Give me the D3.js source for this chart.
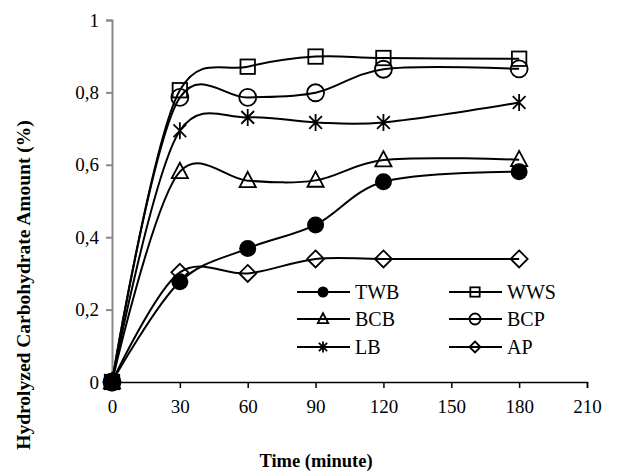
<!DOCTYPE html>
<html><head><meta charset="utf-8">
<script src="https://cdn.jsdelivr.net/npm/d3@7"></script>
<style>body{margin:0;background:#fff}svg{display:block}svg text{font-family:"Liberation Serif","Times New Roman",serif !important;fill:#000}</style>
</head><body>
<svg id="c" width="623" height="473"></svg>
<script>
const times = [0, 30, 60, 90, 120, 180];
const seriesNames = ["TWB", "WWS", "BCB", "BCP", "LB", "AP"];
const TWB = [0, 0.277, 0.369, 0.434, 0.553, 0.581];
const WWS = [0, 0.806, 0.871, 0.899, 0.895, 0.893];
const BCB = [0, 0.581, 0.556, 0.557, 0.613, 0.614];
const BCP = [0, 0.786, 0.786, 0.799, 0.864, 0.865];
const LB  = [0, 0.694, 0.731, 0.717, 0.717, 0.772];
const AP  = [0, 0.303, 0.300, 0.340, 0.340, 0.340];
const xTicks = [0, 30, 60, 90, 120, 150, 180, 210];
const yTicks = [0, 0.2, 0.4, 0.6, 0.8, 1];
const xTitle = "Time (minute)";
const yTitle = "Hydrolyzed Carbohydrate Amount (%)";

const values = {TWB, WWS, BCB, BCP, LB, AP};
const markerType = {TWB:"filledCircle", WWS:"square", BCB:"triangle", BCP:"circle", LB:"star", AP:"diamond"};
const FONT = '"Liberation Serif", "Times New Roman", serif';

const svg = d3.select("#c");
const x = d3.scaleLinear().domain([0, 210]).range([112, 587]);
const y = d3.scaleLinear().domain([0, 1]).range([382, 20]);
const fmt = v => v === 0 ? "0" : (v === 1 ? "1" : d3.format(".1f")(v).replace(".", ","));

// y axis
const ya = svg.append("g").attr("transform", "translate(112,0)")
  .call(d3.axisLeft(y).tickValues(yTicks).tickFormat(fmt).tickSize(6).tickPadding(7));
ya.attr("font-family", FONT);
ya.select(".domain").attr("stroke", "#898989").attr("stroke-width", 2);
ya.selectAll(".tick line").attr("stroke", "#898989").attr("stroke-width", 2);
ya.selectAll(".tick text").style("font-family", FONT).style("font-size", "19px");

// x axis
const xa = svg.append("g").attr("transform", "translate(0,382)")
  .call(d3.axisBottom(x).tickValues(xTicks).tickFormat(d3.format("d")).tickSize(6).tickPadding(12));
xa.attr("font-family", FONT);
xa.select(".domain").attr("stroke", "#000").attr("stroke-width", 1.5);
xa.selectAll(".tick line").attr("stroke", "#000").attr("stroke-width", 1.5);
xa.selectAll(".tick text").style("font-family", FONT).style("font-size", "19px");

svg.append("text").attr("x", 316).attr("y", 467).attr("text-anchor", "middle")
  .style("font-family", FONT).style("font-size", "18.5px").attr("font-weight", "bold").text(xTitle);
svg.append("text").attr("transform", "translate(30,285) rotate(-90)").attr("text-anchor", "middle")
  .style("font-family", FONT).style("font-size", "19.5px").attr("font-weight", "bold").text(yTitle);

function drawMarker(g, type, cx, cy, s) {
  const sw = 1.8;
  if (type === "filledCircle") {
    g.append("circle").attr("cx", cx).attr("cy", cy).attr("r", s).attr("fill", "#000");
  } else if (type === "circle") {
    g.append("circle").attr("cx", cx).attr("cy", cy).attr("r", s).attr("fill", "none").attr("stroke", "#000").attr("stroke-width", sw);
  } else if (type === "square") {
    const h = s * 0.85;
    g.append("rect").attr("x", cx - h).attr("y", cy - h).attr("width", 2*h).attr("height", 2*h).attr("fill", "none").attr("stroke", "#000").attr("stroke-width", sw);
  } else if (type === "triangle") {
    const h = s;
    g.append("path").attr("d", `M${cx},${cy - h*1.05}L${cx + h*0.95},${cy + h*0.75}L${cx - h*0.95},${cy + h*0.75}Z`).attr("fill", "none").attr("stroke", "#000").attr("stroke-width", sw);
  } else if (type === "diamond") {
    const h = s;
    g.append("path").attr("d", `M${cx},${cy - h}L${cx + h},${cy}L${cx},${cy + h}L${cx - h},${cy}Z`).attr("fill", "none").attr("stroke", "#000").attr("stroke-width", sw);
  } else if (type === "star") {
    const h = s;
    const d = h * 0.75;
    g.append("path").attr("d", `M${cx},${cy - h}V${cy + h}M${cx - d},${cy - d}L${cx + d},${cy + d}M${cx - d},${cy + d}L${cx + d},${cy - d}`).attr("fill", "none").attr("stroke", "#000").attr("stroke-width", sw);
  }
}

const line = d3.line().x(d => x(d[0])).y(d => y(d[1])).curve(d3.curveCatmullRom.alpha(0.2));
const plot = svg.append("g");
seriesNames.forEach(name => {
  const pts = times.map((t, i) => [t, values[name][i]]);
  plot.append("path").attr("d", line(pts)).attr("fill", "none").attr("stroke", "#000").attr("stroke-width", 2);
  const mg = plot.append("g");
  pts.forEach(p => drawMarker(mg, markerType[name], x(p[0]), y(p[1]), 8.5));
});

// legend
const leg = svg.append("g");
const cols = [297, 449];
const rows = [292, 319, 347];
seriesNames.forEach((name, i) => {
  const lx = cols[i % 2], ly = rows[Math.floor(i / 2)];
  leg.append("line").attr("x1", lx).attr("x2", lx + 53).attr("y1", ly).attr("y2", ly).attr("stroke", "#000").attr("stroke-width", 2);
  drawMarker(leg, markerType[name], lx + 26, ly, 5.5);
  leg.append("text").attr("x", lx + 58).attr("y", ly + 7).style("font-family", FONT).style("font-size", "20px").text(name);
});
</script>
</body></html>
